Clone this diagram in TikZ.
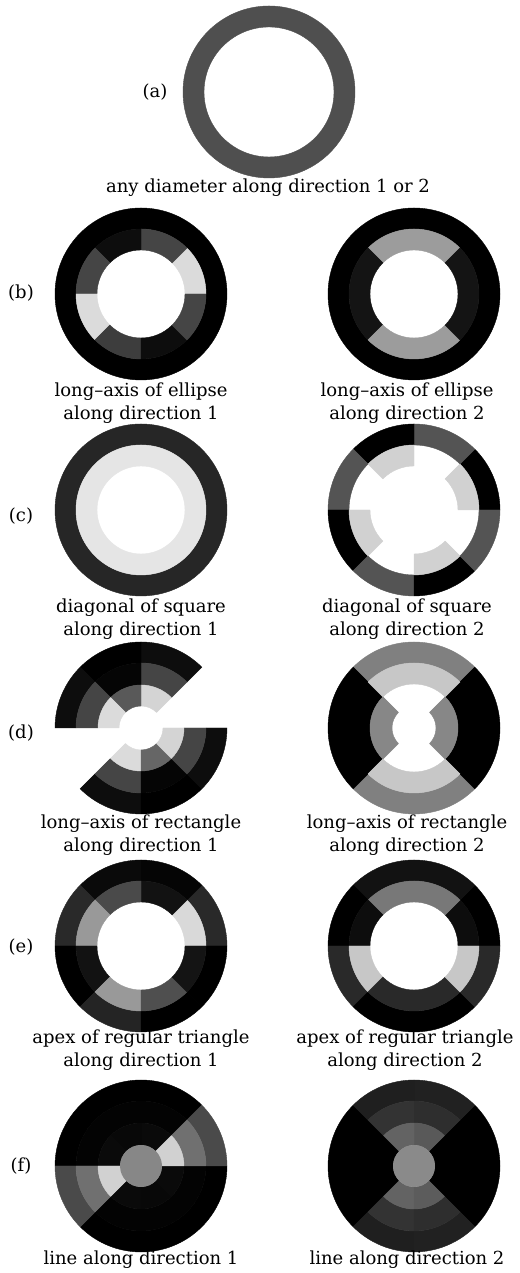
\documentclass[tikz,border=0pt]{standalone}
\usepackage{fontspec}
\setmainfont{DejaVu Serif}
\newcommand{\sect}[5]{%
  \filldraw[fill=#5,draw=#5,line width=0.4pt] (#3:#1pt) -- (#3:#2pt) arc[start angle=#3,end angle=#4,radius=#2pt] -- (#4:#1pt) arc[start angle=#4,end angle=#3,radius=#1pt] -- cycle;}
\tikzset{lab/.style={font=\fontsize{18}{23}\selectfont, align=center, inner sep=0pt}}
\begin{document}
\begin{tikzpicture}[x=1pt,y=1pt]
\useasboundingbox (0,0) rectangle (519,1273);
\fill[white] (0,0) rectangle (519,1273);
% (a)
\begin{scope}[shift={(269,1181)}]
\sect{65}{86}{0}{360}{black!69}
\end{scope}
% (b) left
\begin{scope}[shift={(141,979)}]
\sect{65}{86}{0}{360}{black}
\sect{44}{65}{0}{45}{black!14}
\sect{44}{65}{45}{90}{black!73}
\sect{44}{65}{90}{135}{black!95}
\sect{44}{65}{135}{180}{black!73}
\sect{44}{65}{180}{225}{black!14}
\sect{44}{65}{225}{270}{black!76}
\sect{44}{65}{270}{315}{black!95}
\sect{44}{65}{315}{360}{black!73}
\end{scope}
% (b) right
\begin{scope}[shift={(414,979)}]
\sect{65}{86}{0}{360}{black}
\sect{44}{65}{45}{135}{black!39}
\sect{44}{65}{135}{225}{black!92}
\sect{44}{65}{225}{315}{black!39}
\sect{44}{65}{315}{405}{black!92}
\end{scope}
% (c) left
\begin{scope}[shift={(141,763)}]
\sect{65}{86}{0}{360}{black!85}
\sect{44}{65}{0}{360}{black!10}
\end{scope}
% (c) right
\begin{scope}[shift={(414,763)}]
\sect{65}{86}{0}{45}{black}
\sect{65}{86}{45}{90}{black!67}
\sect{65}{86}{90}{135}{black}
\sect{65}{86}{135}{180}{black!67}
\sect{65}{86}{180}{225}{black}
\sect{65}{86}{225}{270}{black!67}
\sect{65}{86}{270}{315}{black}
\sect{65}{86}{315}{360}{black!67}
\sect{44}{65}{0}{45}{black!18}
\sect{44}{65}{90}{135}{black!18}
\sect{44}{65}{180}{225}{black!18}
\sect{44}{65}{270}{315}{black!18}
\end{scope}
% (d) left
\begin{scope}[shift={(141,545)}]
\sect{65}{86}{45}{90}{black!95}
\sect{65}{86}{90}{135}{black}
\sect{65}{86}{135}{180}{black!95}
\sect{65}{86}{225}{270}{black!95}
\sect{65}{86}{270}{315}{black}
\sect{65}{86}{315}{360}{black!95}
\sect{43}{65}{45}{90}{black!73}
\sect{43}{65}{90}{135}{black!98}
\sect{43}{65}{135}{180}{black!73}
\sect{43}{65}{225}{270}{black!73}
\sect{43}{65}{270}{315}{black!98}
\sect{43}{65}{315}{360}{black!73}
\sect{22}{43}{45}{90}{black!17}
\sect{22}{43}{90}{135}{black!65}
\sect{22}{43}{135}{180}{black!14}
\sect{22}{43}{225}{270}{black!14}
\sect{22}{43}{270}{315}{black!60}
\sect{22}{43}{315}{360}{black!17}
\end{scope}
% (d) right
\begin{scope}[shift={(414,545)}]
\sect{65}{86}{45}{135}{black!50}
\sect{65}{86}{225}{315}{black!50}
\sect{44}{86}{135}{225}{black}
\sect{44}{86}{315}{405}{black}
\sect{44}{65}{45}{135}{black!22}
\sect{44}{65}{225}{315}{black!22}
\sect{22}{44}{135}{225}{black!47}
\sect{22}{44}{315}{405}{black!47}
\end{scope}
% (e) left
\begin{scope}[shift={(141,327)}]
\sect{65}{86}{0}{45}{black!84}
\sect{65}{86}{45}{90}{black!98}
\sect{65}{86}{90}{135}{black!96}
\sect{65}{86}{135}{180}{black!84}
\sect{65}{86}{180}{225}{black}
\sect{65}{86}{225}{270}{black!86}
\sect{65}{86}{270}{315}{black}
\sect{65}{86}{315}{360}{black}
\sect{44}{65}{0}{45}{black!15}
\sect{44}{65}{45}{90}{black!93}
\sect{44}{65}{90}{135}{black!71}
\sect{44}{65}{135}{180}{black!40}
\sect{44}{65}{180}{225}{black!93}
\sect{44}{65}{225}{270}{black!40}
\sect{44}{65}{270}{315}{black!69}
\sect{44}{65}{315}{360}{black!92}
\end{scope}
% (e) right
\begin{scope}[shift={(414,327)}]
\sect{65}{86}{0}{45}{black}
\sect{65}{86}{45}{90}{black!93}
\sect{65}{86}{90}{135}{black!93}
\sect{65}{86}{135}{180}{black}
\sect{65}{86}{180}{225}{black!84}
\sect{65}{86}{225}{270}{black}
\sect{65}{86}{270}{315}{black}
\sect{65}{86}{315}{360}{black!84}
\sect{44}{65}{0}{45}{black!95}
\sect{44}{65}{45}{90}{black!53}
\sect{44}{65}{90}{135}{black!53}
\sect{44}{65}{135}{180}{black!95}
\sect{44}{65}{180}{225}{black!22}
\sect{44}{65}{225}{270}{black!84}
\sect{44}{65}{270}{315}{black!84}
\sect{44}{65}{315}{360}{black!22}
\end{scope}
% (f) left
\begin{scope}[shift={(141,107)}]
\sect{65}{86}{45}{180}{black}
\sect{65}{86}{225}{360}{black}
\sect{65}{86}{0}{45}{black!71}
\sect{65}{86}{180}{225}{black!71}
\sect{43}{65}{45}{180}{black!99}
\sect{43}{65}{225}{360}{black!99}
\sect{43}{65}{0}{45}{black!56}
\sect{43}{65}{180}{225}{black!56}
\sect{21}{43}{45}{90}{black!96}
\sect{21}{43}{90}{135}{black!97}
\sect{21}{43}{135}{180}{black!96}
\sect{21}{43}{225}{270}{black!96}
\sect{21}{43}{270}{315}{black!97}
\sect{21}{43}{315}{360}{black!96}
\sect{21}{43}{0}{45}{black!18}
\sect{21}{43}{180}{225}{black!18}
\fill[black!47] (0,0) circle[radius=21pt];
\end{scope}
% (f) right
\begin{scope}[shift={(414,107)}]
\sect{21}{86}{135}{225}{black}
\sect{21}{86}{315}{405}{black}
\sect{65}{86}{45}{90}{black!87}
\sect{65}{86}{90}{135}{black!88}
\sect{65}{86}{225}{270}{black!88}
\sect{65}{86}{270}{315}{black!87}
\sect{43}{65}{45}{90}{black!82}
\sect{43}{65}{90}{135}{black!80}
\sect{43}{65}{225}{270}{black!80}
\sect{43}{65}{270}{315}{black!82}
\sect{21}{43}{45}{90}{black!65}
\sect{21}{43}{90}{135}{black!61}
\sect{21}{43}{225}{270}{black!61}
\sect{21}{43}{270}{315}{black!64}
\fill[black!46] (0,0) circle[radius=21pt];
\end{scope}
% labels
\node[lab] (la) at (155,1181) {(a)};
\node[lab] (lb) at (21,980) {(b)};
\node[lab] (lc) at (21,757) {(c)};
\node[lab] (ld) at (21,540) {(d)};
\node[lab] (le) at (21,326) {(e)};
\node[lab] (lf) at (21,107) {(f)};
\node[lab] (ca) at (268,1085) {any diameter along direction 1 or 2};
\node[lab] (cb1) at (141,870) {long–axis of ellipse\\along direction 1};
\node[lab] (cb2) at (407,870) {long–axis of ellipse\\along direction 2};
\node[lab] (cc1) at (141,654) {diagonal of square\\along direction 1};
\node[lab] (cc2) at (407,654) {diagonal of square\\along direction 2};
\node[lab] (cd1) at (141,438) {long–axis of rectangle\\along direction 1};
\node[lab] (cd2) at (407,438) {long–axis of rectangle\\along direction 2};
\node[lab] (ce1) at (141,223) {apex of regular triangle\\along direction 1};
\node[lab] (ce2) at (405,223) {apex of regular triangle\\along direction 2};
\node[lab] (cf1) at (141,13) {line along direction 1};
\node[lab] (cf2) at (407,13) {line along direction 2};
\end{tikzpicture}
\end{document}
